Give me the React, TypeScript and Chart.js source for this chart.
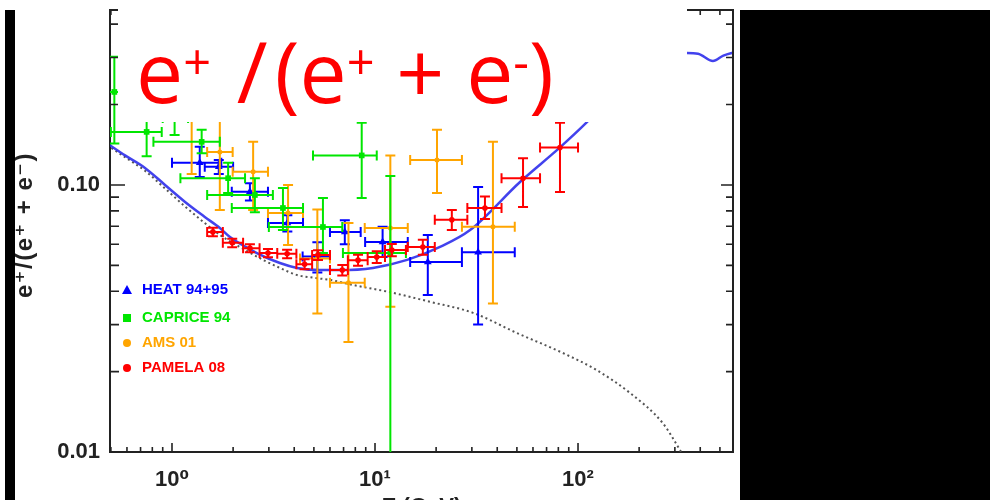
import React, { useEffect, useRef } from "react";
import { Chart, registerables } from "chart.js";

Chart.register(...registerables);

// ---------------- data ----------------
// HEAT 94+95
const heatE = [1.37, 1.7, 2.42, 3.7, 5.2, 7.1, 10.9, 18.2, 32.2];
const heatY = [0.121, 0.117, 0.0944, 0.072, 0.054, 0.0667, 0.0612, 0.0515, 0.056];
const heatELo = [1.0, 1.45, 1.97, 2.97, 4.4, 6.0, 8.94, 14.9, 26.8];
const heatEHi = [1.75, 2.0, 2.97, 4.42, 6.0, 8.5, 14.5, 26.8, 48.8];
const heatYLo = [0.107, 0.11, 0.0874, 0.067, 0.047, 0.06, 0.0537, 0.0387, 0.03];
const heatYHi = [0.139, 0.124, 0.1014, 0.077, 0.061, 0.0737, 0.0697, 0.065, 0.0983];

// CAPRICE 94
const capE = [0.52, 0.75, 1.03, 1.4, 1.89, 2.56, 3.52, 5.54, 8.6, 11.9];
const capY = [0.223, 0.158, 0.178, 0.145, 0.106, 0.0917, 0.082, 0.0696, 0.129, 0.0556];
const capELo = [0.46, 0.5, 0.9, 0.81, 1.1, 1.49, 1.97, 3.0, 4.95, 6.95];
const capEHi = [0.6, 0.89, 1.2, 1.72, 2.29, 3.14, 4.42, 6.9, 10.2, 14.2];
const capYLo = [0.143, 0.128, 0.154, 0.1315, 0.0933, 0.079, 0.0678, 0.0556, 0.0894, 0.003];
const capYHi = [0.302, 0.188, 0.2, 0.161, 0.121, 0.106, 0.0975, 0.0894, 0.171, 0.108];

// AMS 01
const amsE = [1.25, 1.72, 2.51, 3.73, 5.2, 7.4, 11.9, 20.2, 38.1];
const amsY = [0.185, 0.133, 0.112, 0.0785, 0.053, 0.043, 0.069, 0.124, 0.0697];
const amsELo = [1.0, 1.49, 1.99, 2.97, 4.27, 6.0, 8.9, 14.9, 26.8];
const amsEHi = [1.49, 1.99, 2.97, 4.42, 6.0, 8.9, 14.5, 26.8, 48.8];
const amsYLo = [0.11, 0.0806, 0.0806, 0.0596, 0.033, 0.0258, 0.035, 0.0933, 0.036];
const amsYHi = [0.26, 0.186, 0.145, 0.1, 0.081, 0.072, 0.129, 0.161, 0.145];

// PAMELA 08
const pamE = [1.59, 1.98, 2.42, 2.97, 3.69, 4.5, 5.24, 6.9, 8.25, 10.2, 12.1, 17.2, 23.9, 34.8, 53.6, 81.5];
const pamY = [0.0667, 0.0607, 0.058, 0.0556, 0.0552, 0.0505, 0.0547, 0.048, 0.0523, 0.0537, 0.0571, 0.0586, 0.074, 0.082, 0.106, 0.138];
const pamELo = [1.49, 1.78, 2.24, 2.7, 3.3, 4.1, 4.9, 6.0, 7.35, 9.2, 11.2, 14.5, 19.7, 28.5, 42, 65];
const pamEHi = [1.78, 2.24, 2.7, 3.3, 4.1, 4.9, 6.0, 7.35, 9.2, 11.2, 14.2, 19.7, 28.5, 42, 65, 100];
const pamYLo = [0.0642, 0.0585, 0.056, 0.0536, 0.0532, 0.0483, 0.0524, 0.0458, 0.0498, 0.051, 0.0541, 0.0548, 0.0678, 0.0745, 0.0827, 0.0941];
const pamYHi = [0.0692, 0.0629, 0.06, 0.0576, 0.0572, 0.0527, 0.057, 0.0502, 0.0548, 0.0564, 0.0601, 0.0624, 0.0806, 0.0905, 0.126, 0.171];

// model curve (solid blue) and secondary background (dotted grey)
const modelE = [0.48, 0.587, 0.736, 0.924, 1.16, 1.45, 1.72, 1.93, 2.62, 3.4, 4.13, 5.35, 6.7, 9.77, 14.4, 20.9, 29.4, 51.8, 81, 110, 160, 230, 300, 344, 390, 462, 520, 600];
const modelY = [0.143, 0.129, 0.1158, 0.1, 0.0864, 0.0759, 0.069, 0.0638, 0.0556, 0.051, 0.0489, 0.048, 0.048, 0.0489, 0.0524, 0.0586, 0.0678, 0.1026, 0.1376, 0.171, 0.23, 0.285, 0.31, 0.312, 0.31, 0.291, 0.305, 0.315];
const bgE = [0.48, 0.587, 0.736, 0.924, 1.16, 1.45, 1.72, 2.29, 2.81, 3.4, 4.13, 5.0, 6.0, 7.8, 11.8, 18.7, 30.4, 50, 84, 123, 181, 262, 317, 380];
const bgY = [0.141, 0.127, 0.113, 0.097, 0.083, 0.072, 0.065, 0.0571, 0.0524, 0.0489, 0.046, 0.0449, 0.0441, 0.0422, 0.0397, 0.0365, 0.0332, 0.0279, 0.0235, 0.0203, 0.0166, 0.0128, 0.0102, 0.008];

// axes
const xMin = 0.495;
const xMax = 580;
const yMin = 0.01;
const yMax = 0.452;
const xMajorTicks = [1, 10, 100];
const xMajorLabels = ["10\u2070", "10\u00b9", "10\u00b2"];
const xMinorTicks = [0.5, 0.6, 0.7, 0.8, 0.9, 2, 3, 4, 5, 6, 7, 8, 9, 20, 30, 40, 50, 60, 70, 80, 90, 200, 300, 400, 500];
const yMajorTicks = [0.01, 0.1];
const yMajorLabels = ["0.01", "0.10"];
const yMinorTicks = [0.02, 0.03, 0.04, 0.05, 0.06, 0.07, 0.08, 0.09, 0.2, 0.3, 0.4];

const legendNames = ["HEAT 94+95", "CAPRICE 94", "AMS 01", "PAMELA 08"];
const seriesColors = ["#0000ff", "#00e600", "#ffa500", "#ff0000"];
const yTitle = "e\u207a/(e\u207a + e\u207b)";
const xTitle = "E (GeV)";

const SANS = '"Liberation Sans", "DejaVu Sans", sans-serif';

export default function App() {
  const ref = useRef<HTMLCanvasElement>(null);

  useEffect(() => {
    const canvas = ref.current!;
    const pts = (E: number[], Y: number[]) => E.map((e, i) => ({ x: e, y: Y[i] }));

    const series = [
      { E: heatE, Y: heatY, ELo: heatELo, EHi: heatEHi, YLo: heatYLo, YHi: heatYHi, style: "triangle", r: 4.5 },
      { E: capE, Y: capY, ELo: capELo, EHi: capEHi, YLo: capYLo, YHi: capYHi, style: "rect", r: 4 },
      { E: amsE, Y: amsY, ELo: amsELo, EHi: amsEHi, YLo: amsYLo, YHi: amsYHi, style: "circle", r: 2.5 },
      { E: pamE, Y: pamY, ELo: pamELo, EHi: pamEHi, YLo: pamYLo, YHi: pamYHi, style: "circle", r: 2.8 },
    ];
    // draw order: HEAT first, then AMS, CAPRICE, PAMELA on top
    const orders = [4, 2, 3, 1];

    const errPlugin = {
      id: "errbars",
      beforeDatasetDraw(chart: any, args: any) {
        const ds = chart.data.datasets[args.index];
        if (!ds.err) return;
        const { ctx, chartArea: a, scales } = chart;
        const xs = scales.x, ys = scales.y;
        const e = ds.err;
        ctx.save();
        ctx.beginPath();
        ctx.rect(a.left, a.top, a.right - a.left, a.bottom - a.top);
        ctx.clip();
        ctx.strokeStyle = ds.borderColor;
        ctx.lineWidth = 2;
        const c = 5;
        ctx.beginPath();
        for (let i = 0; i < e.E.length; i++) {
          const cx = xs.getPixelForValue(e.E[i]);
          const cy = ys.getPixelForValue(e.Y[i]);
          const x0 = xs.getPixelForValue(e.ELo[i]);
          const x1 = xs.getPixelForValue(e.EHi[i]);
          const y0 = ys.getPixelForValue(e.YLo[i]);
          const y1 = ys.getPixelForValue(e.YHi[i]);
          ctx.moveTo(x0, cy); ctx.lineTo(x1, cy);
          ctx.moveTo(x0, cy - c); ctx.lineTo(x0, cy + c);
          ctx.moveTo(x1, cy - c); ctx.lineTo(x1, cy + c);
          ctx.moveTo(cx, y0); ctx.lineTo(cx, y1);
          ctx.moveTo(cx - c, y0); ctx.lineTo(cx + c, y0);
          ctx.moveTo(cx - c, y1); ctx.lineTo(cx + c, y1);
        }
        ctx.stroke();
        ctx.restore();
      },
    };

    const decorPlugin = {
      id: "decor",
      afterDraw(chart: any) {
        const { ctx, chartArea: a, scales } = chart;
        const xs = scales.x, ys = scales.y;
        ctx.save();
        // frame (top, right)
        ctx.strokeStyle = "#222";
        ctx.lineWidth = 2;
        ctx.beginPath();
        ctx.moveTo(a.left, a.top); ctx.lineTo(a.right, a.top); ctx.lineTo(a.right, a.bottom);
        ctx.stroke();
        // inward ticks
        ctx.lineWidth = 1.6;
        ctx.beginPath();
        yMajorTicks.forEach((v) => {
          const p = ys.getPixelForValue(v);
          ctx.moveTo(a.left, p); ctx.lineTo(a.left + 15, p);
          ctx.moveTo(a.right, p); ctx.lineTo(a.right - 12, p);
        });
        yMinorTicks.forEach((v) => {
          const p = ys.getPixelForValue(v);
          ctx.moveTo(a.left, p); ctx.lineTo(a.left + 9, p);
          ctx.moveTo(a.right, p); ctx.lineTo(a.right - 7, p);
        });
        xMajorTicks.forEach((v) => {
          const p = xs.getPixelForValue(v);
          ctx.moveTo(p, a.bottom); ctx.lineTo(p, a.bottom - 9);
          ctx.moveTo(p, a.top); ctx.lineTo(p, a.top + 9);
        });
        xMinorTicks.forEach((v) => {
          const p = xs.getPixelForValue(v);
          ctx.moveTo(p, a.bottom); ctx.lineTo(p, a.bottom - 5);
          ctx.moveTo(p, a.top); ctx.lineTo(p, a.top + 5);
        });
        ctx.stroke();

        // legend inside the plot
        const ly = [290, 318, 343, 368];
        const mx = 127;
        ctx.font = `bold 15px ${SANS}`;
        ctx.textBaseline = "middle";
        ctx.textAlign = "left";
        legendNames.forEach((name, k) => {
          const col = seriesColors[k];
          ctx.fillStyle = col;
          const yy = ly[k];
          ctx.beginPath();
          if (k === 0) {
            ctx.moveTo(mx, yy - 5); ctx.lineTo(mx + 5, yy + 4); ctx.lineTo(mx - 5, yy + 4); ctx.closePath();
          } else if (k === 1) {
            ctx.rect(mx - 4, yy - 4, 8, 8);
          } else {
            ctx.arc(mx, yy, 4, 0, Math.PI * 2);
          }
          ctx.fill();
          ctx.fillText(name, 142, yy);
        });

        // y axis title (rotated)
        ctx.fillStyle = "#222";
        ctx.font = `bold 24px ${SANS}`;
        (ctx as any).letterSpacing = "1.5px";
        ctx.translate(32, 225);
        ctx.rotate(-Math.PI / 2);
        ctx.textAlign = "center";
        ctx.textBaseline = "alphabetic";
        ctx.fillText(yTitle, 0, 0);
        ctx.restore();

        // x axis title (mostly cut off by the page edge)
        ctx.save();
        ctx.fillStyle = "#222";
        ctx.font = `bold 22px ${SANS}`;
        ctx.textAlign = "center";
        ctx.textBaseline = "top";
        ctx.fillText(xTitle, (a.left + a.right) / 2, 496);
        ctx.restore();
      },
    };

    const chart = new Chart(canvas, {
      type: "scatter",
      data: {
        datasets: [
          {
            label: "model",
            data: pts(modelE, modelY),
            showLine: true,
            borderColor: "rgba(45,45,235,0.9)",
            borderWidth: 2.5,
            pointRadius: 0,
            cubicInterpolationMode: "monotone",
            order: 10,
          } as any,
          {
            label: "secondary",
            data: pts(bgE, bgY),
            showLine: true,
            borderColor: "#555",
            borderDash: [2, 3],
            borderWidth: 2,
            pointRadius: 0,
            cubicInterpolationMode: "monotone",
            order: 11,
          } as any,
          ...series.map((s, k) => ({
            label: legendNames[k],
            data: pts(s.E, s.Y),
            backgroundColor: seriesColors[k],
            borderColor: seriesColors[k],
            pointStyle: s.style,
            pointRadius: s.r,
            pointBorderWidth: 0,
            order: orders[k],
            err: s,
          })) as any,
        ],
      },
      options: {
        animation: false,
        responsive: false,
        maintainAspectRatio: false,
        layout: { padding: { left: 0, right: 257, top: 10, bottom: 0 } },
        plugins: { legend: { display: false }, tooltip: { enabled: false } },
        scales: {
          x: {
            type: "logarithmic",
            position: "bottom",
            min: xMin,
            max: xMax,
            afterFit: (s: any) => { s.height = 48; s.paddingLeft = 0; s.paddingRight = 0; },
            afterBuildTicks: (s: any) => {
              s.ticks = [...xMinorTicks, ...xMajorTicks].sort((p, q) => p - q).map((v) => ({ value: v }));
            },
            ticks: {
              autoSkip: false,
              maxRotation: 0,
              padding: 15,
              color: "#222",
              font: { family: SANS, size: 22, weight: "bold" },
              callback: (v: any) => {
                const i = xMajorTicks.indexOf(Number(v));
                return i >= 0 ? xMajorLabels[i] : "";
              },
            },
            grid: { display: false, drawTicks: false },
            border: { display: true, color: "#222", width: 2 },
          },
          y: {
            type: "logarithmic",
            min: yMin,
            max: yMax,
            afterFit: (s: any) => { s.width = 110; s.paddingTop = 0; s.paddingBottom = 0; },
            afterBuildTicks: (s: any) => {
              s.ticks = [...yMinorTicks, ...yMajorTicks].sort((p, q) => p - q).map((v) => ({ value: v }));
            },
            ticks: {
              autoSkip: false,
              padding: 10,
              color: "#222",
              font: { family: SANS, size: 22, weight: "bold" },
              callback: (v: any) => {
                const i = yMajorTicks.indexOf(Number(v));
                return i >= 0 ? yMajorLabels[i] : "";
              },
            },
            grid: { display: false, drawTicks: false },
            border: { display: true, color: "#222", width: 2 },
          },
        } as any,
      },
      plugins: [errPlugin, decorPlugin],
    });
    return () => chart.destroy();
  }, []);

  const sup: React.CSSProperties = { fontSize: "0.58em", position: "relative", top: "-0.47em" };

  return (
    <div style={{ position: "absolute", left: 0, top: 0, width: 990, height: 500, overflow: "hidden", background: "#fff" }}>
      <canvas ref={ref} width={990} height={500} style={{ display: "block", width: 990, height: 500 }} />
      {/* white panel holding the big title */}
      <div style={{ position: "absolute", left: 118, top: 0, width: 569, height: 122, background: "#fff" }}>
        <div
          style={{
            position: "absolute",
            left: 18,
            top: 29,
            fontFamily: '"Open Sans", sans-serif',
            fontSize: 84,
            lineHeight: "84px",
            color: "#ff0000",
            whiteSpace: "nowrap",
          }}
        >
          e<span style={sup}>+</span> <span style={{ marginLeft: 4 }}>/</span>
          <span style={{ marginLeft: 7 }}>(</span>e<span style={sup}>+</span> + e<span style={sup}>-</span>)
        </div>
      </div>
      {/* black masks */}
      <div style={{ position: "absolute", left: 5, top: 10, width: 10, height: 490, background: "#000" }} />
      <div style={{ position: "absolute", left: 740, top: 10, width: 250, height: 490, background: "#000" }} />
    </div>
  );
}
